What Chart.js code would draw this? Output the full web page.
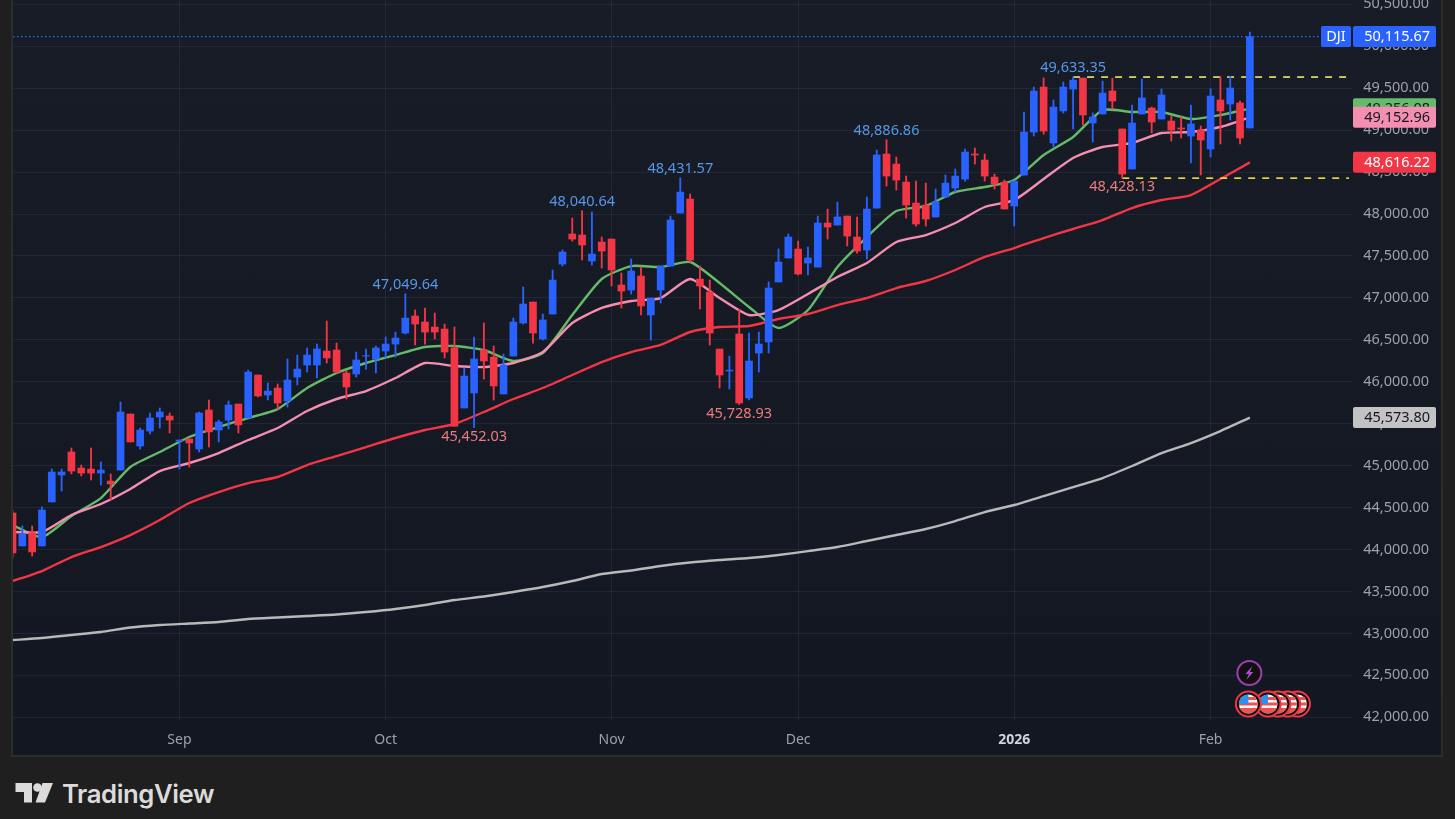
<!DOCTYPE html>
<html>
<head>
<meta charset="utf-8">
<script src="https://cdn.jsdelivr.net/npm/chart.js@4"></script>
<style>
html,body{margin:0;padding:0;width:1455px;height:819px;overflow:hidden;background:#1f1f1f}
#panel{position:absolute;left:13px;top:0;width:1428px;height:755px;background:linear-gradient(#181c27,#121722);outline:2px solid #2c2c2c}
#brand{position:absolute;left:15px;top:778px;display:flex;align-items:center}
#brandText{position:absolute;left:47px;top:0px;font:600 25.7px Inter,sans-serif;color:#dbdbdb;letter-spacing:-.4px;white-space:nowrap}
</style>
</head>
<body>
<div id="panel"><canvas id="c" width="1428" height="755" style="width:1428px;height:755px"></canvas></div>
<div id="brand">
<svg width="40" height="26" viewBox="0 0 40 26"><path fill="#dbdbdb" d="M0.5 5H17V24.5H9V14H0.5Z"/><circle cx="22.5" cy="9.5" r="4.3" fill="#dbdbdb"/><path fill="#dbdbdb" d="M27.5 5H38L30 24.5H20.5Z"/></svg>
<span id="brandText">TradingView</span>
</div>
<script>
const opens=[44436,44043,44200,44043,44567,44889,45163,44972,44960,44912,44817,44948,45616,45235,45413,45580,45592,45294,45318,45199,45664,45425,45544,45735,45568,46081,45842,45926,45771,46057,46200,46200,46367,46379,46105,46093,46307,46271,46367,46450,46582,46784,46713,46653,46629,46403,45688,45867,46379,46295,45855,46307,46701,46951,46510,46808,47404,47762,47750,47440,47666,47702,47154,47094,47261,46796,47094,47380,48012,48179,47225,47070,46391,46129,46570,45807,46343,46475,47190,47476,47583,47416,47368,47893,47869,47976,47726,47571,48071,48716,48596,48381,48131,48107,47965,48203,48310,48417,48716,48644,48441,48381,48096,48465,48977,49514,48847,49229,49490,49621,49085,49193,49467,49014,48537,49193,49264,49133,49109,49026,48930,49002,48775,49360,49312,49324,49026];
const closes=[43959,44186,43971,44472,44924,44924,44936,44912,44912,44948,44782,45640,45283,45425,45568,45640,45544,45306,45271,45628,45402,45521,45723,45485,46116,45831,45890,45747,46021,46152,46319,46391,46284,46117,45938,46260,46313,46403,46450,46522,46760,46689,46593,46593,46355,45470,46069,46272,46248,45950,46200,46713,46927,46582,46737,47213,47547,47702,47631,47523,47559,47333,47082,47321,46904,46999,47380,47929,48262,47452,47142,46582,46081,46140,45747,46248,46450,47118,47428,47726,47285,47476,47893,47845,47965,47738,47559,48060,48704,48453,48405,48107,47881,47940,48143,48369,48453,48739,48704,48453,48358,48060,48393,48978,49467,48989,49276,49514,49597,49181,49157,49443,49348,48477,49085,49384,49097,49420,49002,49014,49074,48883,49407,49229,49503,48907,50115.67];
const highs=[44470,44281,44281,44508,44960,44960,45211,45008,45211,45044,44901,45759,45616,45449,45628,45688,45628,45306,45318,45640,45783,45544,45771,45735,46140,46081,45985,45974,46271,46319,46403,46450,46725,46462,46129,46355,46391,46427,46534,46593,47049.64,46856,46880,46820,46689,46653,46164,46534,46701,46427,46331,46760,47130,46951,46808,47333,47571,47952,48040.64,48024,47726,47702,47297,47464,47368,46999,47380,47977,48431.57,48239,47380,47213,46391,46307,46868,46582,46593,47190,47583,47762,47678,47607,47976,48060,48143,47976,47965,48203,48763,48886.86,48680,48453,48393,48369,48298,48465,48537,48775,48787,48716,48477,48405,48393,49217,49514,49622,49360,49574,49633.35,49621,49205,49586,49621,49014,49300,49610,49276,49491,49169,49157,49300,49050,49491,49640,49640,49348,50170];
const lows=[43900,44043,43923,44043,44567,44698,44901,44877,44829,44770,44591,44948,45283,45199,45378,45449,45390,44960,44984,45163,45223,45283,45437,45390,45568,45819,45783,45675,45699,45962,46117,46045,46224,46105,45795,46057,46152,46105,46284,46295,46570,46439,46450,46510,46284,45470,45688,45452.03,46033,45783,45855,46307,46689,46462,46498,46808,47380,47678,47452,47392,47356,47142,46880,47046,46796,46498,46939,47380,48012,47428,46868,46439,45926,45914,45728.93,45783,46117,46343,47190,47476,47273,47273,47368,47702,47869,47619,47535,47464,48071,48334,48286,47952,47857,47857,47965,48203,48263,48393,48596,48393,48298,48060,47857,48465,48930,48953,48799,49205,49015,49062,48859,49193,49252,48428.13,48537,49193,48966,49133,48871,48907,48609,48466,48680,48835,49121,48835,49026];

const maIndex=[0,3,6,9,12,15,18,21,24,27,30,33,36,39,42,45,48,51,54,57,60,63,66,69,72,75,78,81,84,87,90,93,96,99,102,105,108,111,114,117,120,123,126];
const greenMA=[44292,44149,44400,44614,44984,45163,45342,45461,45568,45675,45926,46105,46224,46319,46415,46427,46379,46248,46343,46796,47226,47380,47369,47428,47178,46892,46641,46856,47369,47726,48036,48096,48263,48322,48406,48704,48919,49240,49217,49217,49133,49181,49256.08];
const pinkMA=[44209,44209,44412,44543,44722,44936,45032,45151,45306,45449,45652,45795,45890,46045,46224,46188,46176,46224,46355,46701,46880,46963,46999,47226,46999,46796,46856,47047,47249,47416,47667,47750,47893,48084,48167,48418,48668,48799,48847,48966,48978,49038,49152.96];
const redMA=[43625,43744,43911,44030,44173,44352,44555,44686,44793,44865,45008,45115,45222,45330,45425,45497,45640,45795,45926,46081,46236,46355,46439,46594,46653,46665,46749,46808,46915,46999,47118,47202,47333,47488,47595,47714,47822,47929,48072,48167,48227,48418,48616.22];
const grayMA=[42921,42945,42981,43017,43070,43100,43118,43136,43172,43190,43207,43225,43255,43291,43339,43398,43440,43494,43553,43625,43708,43750,43804,43846,43875,43899,43935,43982,44030,44102,44173,44245,44340,44447,44531,44638,44745,44853,44996,45151,45270,45413,45573.80];

const priceTicks=[42000,42500,43000,43500,44000,44500,45000,45500,46000,46500,47000,47500,48000,48500,49000,49500,50000,50500];
const timeTickIndex=[17,38,61,80,102,122];
const timeTickNames=['Sep','Oct','Nov','Dec','2026','Feb'];
const pivotIndex=[40,58,68,89,108,47,74,113];
const pivotPrice=[47049.64,48040.64,48431.57,48886.86,49633.35,45452.03,45728.93,48428.13];
const pivotIsHigh=[true,true,true,true,true,false,false,false];
const flagEventIndex=[131,130,129,128,126];
const boltEventIndex=126;
const lastClose=50115.67;

const C={up:'#2962ff',down:'#f23645',green:'#66bb6a',pink:'#f48fb1',red:'#f23645',gray:'#b9b9b9',grayTag:'#c3c3c3',grid:'rgba(190,200,225,.075)',axis:'#9da0a9'};
const FONT='"Noto Sans",sans-serif';
const FS=14.5;
const fmt=v=>v.toLocaleString('en-US',{minimumFractionDigits:2,maximumFractionDigits:2});
const xMin=0.05,xMax=136.4;
const idx=opens.map((_,i)=>i);
const colors=opens.map((o,i)=>closes[i]>=o?C.up:C.down);
const maLine=(vals,color,w)=>({type:'line',data:maIndex.map((x,i)=>({x,y:vals[i]})),borderColor:color,borderWidth:w||2.4,pointRadius:0,tension:.2,order:5});
const levelLine=(x0,x1,y,color,dash,w)=>({type:'line',data:[{x:x0,y},{x:x1,y}],borderColor:color,borderWidth:w||1,borderDash:dash,pointRadius:0,order:4});

const overlay={id:'overlay',afterDraw(ch){
  const g=ch.ctx,X=ch.scales.x,Y=ch.scales.y;
  g.save();
  g.font=FS+'px '+FONT;g.textAlign='center';g.textBaseline='middle';
  pivotIndex.forEach((p,i)=>{
    const hi=pivotIsHigh[i];
    g.fillStyle=hi?'#5597e8':'#ec7c7f';
    g.fillText(fmt(pivotPrice[i]),X.getPixelForValue(p),Y.getPixelForValue(pivotPrice[i])+(hi?-9:9));
  });
  const tag=(v,bg,fg,x,w)=>{
    const y=Y.getPixelForValue(v);
    g.fillStyle=bg;g.beginPath();g.roundRect(x,y-10.5,w,21,2);g.fill();
    g.fillStyle=fg;g.textAlign='right';g.fillText(fmt(v),x+w-6,y+.5);
  };
  const ax=1340,aw=83;
  const lastG=greenMA[greenMA.length-1],lastP=pinkMA[pinkMA.length-1],lastR=redMA[redMA.length-1],lastW=grayMA[grayMA.length-1];
  const yc=Y.getPixelForValue(lastClose);
  g.fillStyle=C.up;g.beginPath();g.roundRect(1308,yc-10.5,30,21,2);g.fill();
  g.fillStyle='#fff';g.textAlign='center';g.fillText('DJI',1323,yc+.5);
  tag(lastClose,C.up,'#fff',ax,aw);
  tag(lastG,C.green,'#131722',ax,aw);
  tag(lastP,C.pink,'#131722',ax,aw);
  tag(lastR,C.red,'#fff',ax,aw);
  tag(lastW,C.grayTag,'#131722',ax,aw);
  const fy=704;
  flagEventIndex.forEach(i=>{
    const x=X.getPixelForValue(i)-1.5;
    g.beginPath();g.arc(x,fy,12.5,0,7);g.fillStyle='#111';g.fill();
    g.strokeStyle='#f23645';g.lineWidth=2;g.stroke();
    g.save();g.beginPath();g.arc(x,fy,9.5,0,7);g.clip();
    g.fillStyle='#f6f6f6';g.fillRect(x-10,fy-10,20,20);
    g.fillStyle='#ef5350';
    [-7,-1.5,4].forEach(d=>g.fillRect(x-10,fy+d,20,3));
    g.fillRect(x-10,fy+7,20,3);
    g.fillStyle='#2f8fee';g.fillRect(x-10,fy-10,10,10);
    g.restore();
  });
  const bx=X.getPixelForValue(boltEventIndex)-.5,by=673;
  g.beginPath();g.arc(bx,by,12,0,7);g.fillStyle='#111';g.fill();
  g.strokeStyle='#9c3fb0';g.lineWidth=2;g.stroke();
  g.fillStyle='#b04cc8';g.beginPath();
  [[3,-7],[-4,1],[-.5,1],[-3,7],[4,-1],[.5,-1]].forEach((p,i)=>i?g.lineTo(bx+p[0],by+p[1]):g.moveTo(bx+p[0],by+p[1]));
  g.closePath();g.fill();
  g.restore();
}};

new Chart(document.getElementById('c'),{
  type:'bar',
  data:{datasets:[
    {data:idx.map(i=>({x:i,y:[opens[i],closes[i]]})),backgroundColor:colors,barThickness:7,grouped:false,order:1,borderWidth:0},
    {data:idx.map(i=>({x:i,y:[lows[i],highs[i]]})),backgroundColor:colors,barThickness:1.2,grouped:false,order:2,borderWidth:0},
    maLine(grayMA,C.gray),maLine(redMA,C.red),maLine(pinkMA,C.pink),maLine(greenMA,C.green),
    levelLine(xMin,xMax,lastClose,C.up,[1.5,2.5],1.4),
    levelLine(108,xMax,pivotPrice[4],'#fff27a',[7,7],1.5),
    levelLine(113,136.1,pivotPrice[7],'#ffeb3b',[7,7],1.5)
  ]},
  options:{
    responsive:false,animation:false,devicePixelRatio:1,
    layout:{padding:{left:0,right:12,top:0,bottom:0}},
    plugins:{legend:{display:false},tooltip:{enabled:false}},
    scales:{
      x:{type:'linear',position:'bottom',min:xMin,max:xMax,offset:false,
        grid:{color:C.grid,drawTicks:false,offset:false},border:{display:false},
        afterBuildTicks(s){s.ticks=timeTickIndex.map(value=>({value}));},
        afterFit(s){s.height=34;s.paddingLeft=0;s.paddingRight=0;},
        ticks:{autoSkip:false,maxRotation:0,padding:11,
          callback:v=>timeTickNames[timeTickIndex.indexOf(v)],
          color:c=>timeTickNames[c.index]==='2026'?'#d1d4dc':C.axis,
          font:c=>({family:FONT,size:14,weight:timeTickNames[c.index]==='2026'?'700':'400'})}},
      y:{type:'linear',position:'right',min:41956,max:50552,
        grid:{color:C.grid,drawTicks:false},border:{display:false},
        afterBuildTicks(s){s.ticks=priceTicks.map(value=>({value}));},
        afterFit(s){s.width=77;s.paddingTop=0;s.paddingBottom=0;},
        ticks:{autoSkip:false,crossAlign:'far',padding:0,callback:v=>fmt(v),color:C.axis,font:{family:FONT,size:FS}}}
    }
  },
  plugins:[overlay]
});
</script>
</body>
</html>
